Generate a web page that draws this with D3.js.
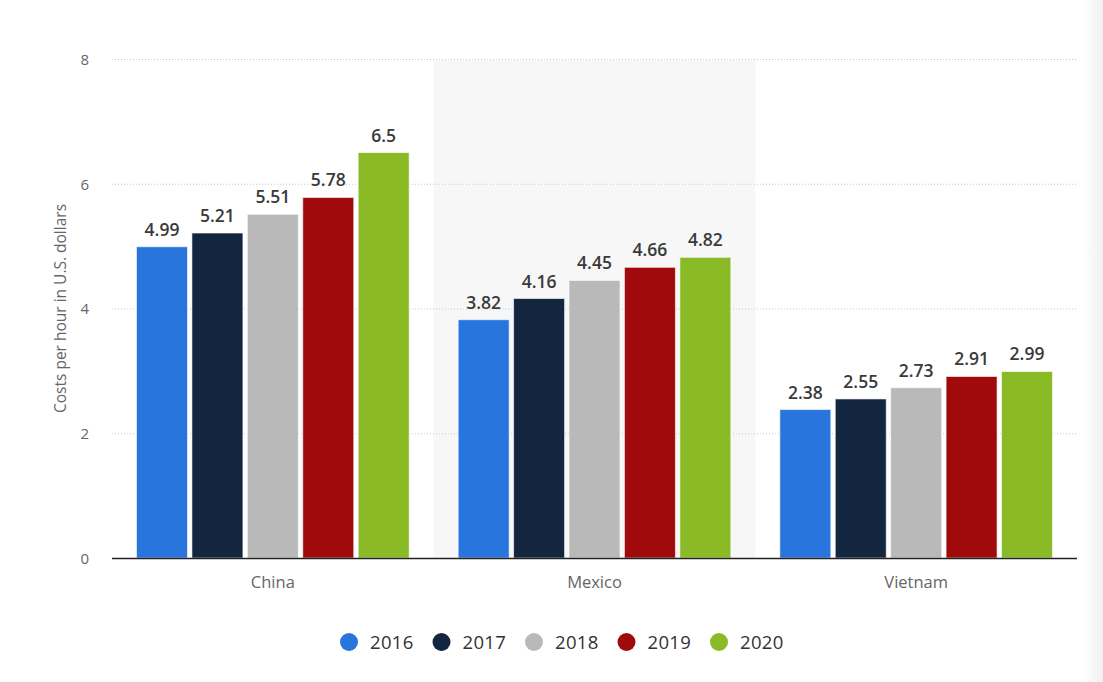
<!DOCTYPE html>
<html>
<head>
<meta charset="utf-8">
<script src="https://cdn.jsdelivr.net/npm/d3@7"></script>
<style>
  html, body { margin: 0; padding: 0; background: #fff; }
  svg { display: block; font-family: "Open Sans", "Noto Sans", sans-serif; }
</style>
</head>
<body>
<svg id="chart" width="1103" height="682"></svg>
<script>
const categories = ["China", "Mexico", "Vietnam"];
const years = ["2016", "2017", "2018", "2019", "2020"];
const values2016 = [4.99, 3.82, 2.38];
const values2017 = [5.21, 4.16, 2.55];
const values2018 = [5.51, 4.45, 2.73];
const values2019 = [5.78, 4.66, 2.91];
const values2020 = [6.5, 4.82, 2.99];
const yTicks = [0, 2, 4, 6, 8];
const colors = ["#2876dd", "#12263f", "#b9b9b9", "#a10a0d", "#8abb26"];
const yTitle = "Costs per hour in U.S. dollars";

const series = [values2016, values2017, values2018, values2019, values2020];

const svg = d3.select("#chart");
const W = 1103, H = 682;
const m = { left: 112, right: 1077, top: 59, bottom: 558 };

// right-edge shadow
const defs = svg.append("defs");
const grad = defs.append("linearGradient").attr("id", "shadow").attr("x1", "0").attr("x2", "1");
grad.append("stop").attr("offset", "0").attr("stop-color", "#fff");
grad.append("stop").attr("offset", "1").attr("stop-color", "#eef0f2");
svg.append("rect").attr("x", 1083).attr("y", 0).attr("width", 20).attr("height", H).attr("fill", "url(#shadow)");

const x0 = d3.scaleBand().domain(categories).range([m.left, m.right]).padding(0);
const inset = 24.5;
const x1 = d3.scaleBand().domain(years).range([inset, x0.bandwidth() - inset]).paddingInner(0.08).paddingOuter(0);
const y = d3.scaleLinear().domain([0, 8]).range([m.bottom, m.top]);

// highlighted band (Mexico)
svg.append("rect")
  .attr("x", x0("Mexico")).attr("y", y(8) + 1)
  .attr("width", x0.bandwidth()).attr("height", y(0) - y(8) - 1)
  .attr("fill", "#f7f7f7");

// gridlines
svg.append("g").selectAll("line").data(yTicks.filter(d => d > 0)).join("line")
  .attr("x1", m.left).attr("x2", m.right)
  .attr("y1", d => y(d) + 0.5).attr("y2", d => y(d) + 0.5)
  .attr("stroke", "#c8c8c8").attr("stroke-width", 1).attr("stroke-dasharray", "1,2");

// y axis labels
const yAxis = d3.axisLeft(y).tickValues(yTicks).tickSize(0).tickPadding(0).tickFormat(d3.format("d"));
const gy = svg.append("g").attr("transform", `translate(89,0)`).call(yAxis);
gy.select(".domain").remove();
gy.selectAll("text").attr("fill", "#666").attr("font-size", 15).attr("font-family", "Open Sans, sans-serif").attr("dy", "0.35em");

// y title
svg.append("text")
  .attr("transform", `translate(66,${(m.top + m.bottom) / 2}) rotate(-90)`)
  .attr("text-anchor", "middle")
  .attr("fill", "#666").attr("font-size", 15.5)
  .text(yTitle);

// bars
const rows = [];
categories.forEach((c, ci) => {
  years.forEach((yr, si) => rows.push({ cat: c, year: yr, si, value: series[si][ci] }));
});

const g = svg.append("g");
g.selectAll("rect.bar").data(rows).join("rect")
  .attr("class", "bar")
  .attr("x", d => x0(d.cat) + x1(d.year))
  .attr("y", d => y(d.value))
  .attr("width", x1.bandwidth())
  .attr("height", d => y(0) - y(d.value))
  .attr("fill", d => colors[d.si])
  .attr("stroke", "rgba(255,255,255,0.6)")
  .attr("stroke-width", 1);

g.selectAll("text.val").data(rows).join("text")
  .attr("class", "val")
  .attr("x", d => x0(d.cat) + x1(d.year) + x1.bandwidth() / 2)
  .attr("y", d => y(d.value) - 11)
  .attr("text-anchor", "middle")
  .attr("fill", "#3a3a3a")
  .attr("font-size", 17.5).attr("font-weight", 600)
  .text(d => d.value);

// baseline
svg.append("line").attr("x1", m.left).attr("x2", m.right)
  .attr("y1", y(0) + 0.5).attr("y2", y(0) + 0.5)
  .attr("stroke", "#222").attr("stroke-width", 1.5);

// x axis
const xAxis = d3.axisBottom(x0).tickSize(0).tickPadding(0);
const gx = svg.append("g").attr("transform", `translate(0,${m.bottom})`).call(xAxis);
gx.select(".domain").remove();
gx.selectAll("text").attr("fill", "#666").attr("font-size", 16.5).attr("font-family", "Open Sans, sans-serif").attr("y", 30).attr("dy", 0);

// legend
const legX = d3.scalePoint().domain(years).range([349, 719]);
const leg = svg.append("g").selectAll("g").data(years).join("g")
  .attr("transform", d => `translate(${legX(d)},642)`);
leg.append("circle").attr("r", 9).attr("fill", (d, i) => colors[i]);
leg.append("text").attr("x", 21).attr("dy", "0.36em")
  .attr("fill", "#333").attr("font-size", 18.5).attr("font-weight", 500)
  .attr("letter-spacing", "0.3px")
  .text(d => d);
</script>
</body>
</html>
